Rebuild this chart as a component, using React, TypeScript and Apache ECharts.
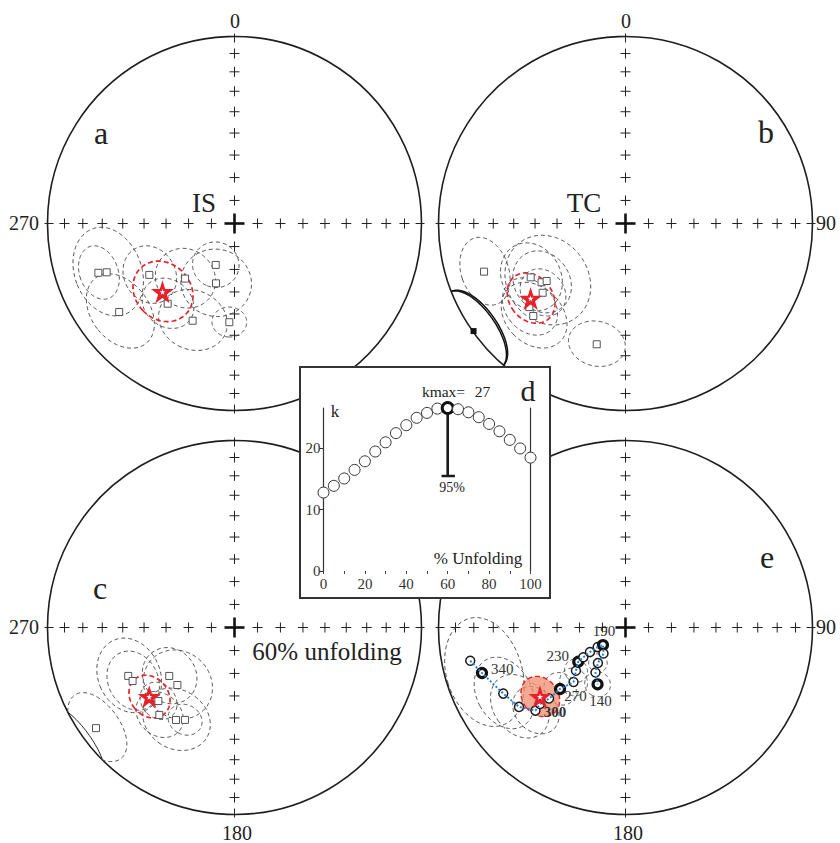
import React, { useEffect, useRef } from 'react';
import * as echarts from 'echarts';

// ---------------- DATA ----------------
// Equal-area net graticule inclinations (crosses on the N, E, S, W diameters)
const crossIncs = [80, 70, 60, 50, 40, 30, 20, 10];

// (a) in situ site means: declination, inclination (upper hemisphere), alpha95
const aDec = [250.1, 249.1, 238.9, 221.9, 204.4, 197.2, 219.8, 232.5, 203.3, 183.0];
const aInc = [-23.6, -27.7, -45.8, -57.5, -70.2, -62.6, -43.5, -23.3, -42.8, -46.1];
const aA95 = [10, 17, 12, 13, 10, 15, 11, 15, 14, 7];
const aMean = [226.5, -45.9, 13];

// (b) tilt-corrected
const bDec = [251.2, 240.4, 235.0, 233.9, 230.1, 229.0, 224.9, 193.4];
const bInc = [-21.2, -41.3, -44.4, -46.7, -41.8, -32.4, -30.8, -34.0];
const bA95 = [12.5, 14, 13, 19, 10, 12, 14, 11];
const bLowerSite = [234.7, 0.5, 14];
const bMean = [231.7, -35.6, 10.5];

// (c) 60% unfolding
const cDec = [245.5, 242.3, 233.4, 224.8, 226.0, 220.7, 212.3, 208.2, 234.0];
const cInc = [-37.6, -38.4, -54.2, -54.3, -42.8, -38.3, -41.1, -43.3, -9.3];
const cA95 = [15, 12, 12, 15, 8, 10, 14, 7, 13];
const cMean = [230.9, -40.9, 9];

// (e) path of mean directions
const eDec = [257.9, 252.4, 241.6, 233.3, 227.3, 228.2, 227.1, 226.8, 223.6, 228.9, 234.1, 234.8, 235.4, 234.9, 232.1, 220.2, 217.8, 213.7, 206.2];
const eInc = [-16.2, -20.6, -26.6, -29.7, -34.8, -38.6, -43.5, -50.3, -56.9, -61.2, -64.5, -67.5, -71.2, -75.2, -77.6, -75.2, -70.4, -66.4, -62.3];
const eA95 = [0, 20, 14, 13, 10, 0, 0, 7, 6, 5, 0, 0, 0, 0, 0, 0, 4, 0, 5.5];
const eLabels = ['', '340', '', '', '300', '', '', '270', '', '', '230', '', '', '', '190', '', '', '', '140'];
const eThick = [0, 1, 0, 0, 0, 0, 0, 1, 0, 0, 1, 0, 0, 0, 1, 0, 0, 0, 1];
const eMean = [231.0, -40.85, 8.5];

// (d) k versus % unfolding
const unfoldPct = [0, 5, 10, 15, 20, 25, 30, 35, 40, 45, 50, 55, 60, 65, 70, 75, 80, 85, 90, 95, 100];
const kValues = [12.8, 13.9, 15.1, 16.5, 17.9, 19.5, 21.0, 22.5, 23.8, 25.0, 25.8, 26.5, 26.6, 26.4, 25.9, 25.1, 24.0, 22.8, 21.4, 20.0, 18.5];
const kMaxPct = 60;
const kMaxValue = 26.6;
const k95Lower = 15.5;
const kTicks = [0, 10, 20];

// ---------------- LAYOUT / STYLE ----------------
const FONT = '"Liberation Serif", "Times New Roman", serif';
const RED = '#e8202a';
const NET_R = 187;
const NETS = [
  { cx: 234.5, cy: 223.5 },
  { cx: 625.5, cy: 223.5 },
  { cx: 234.5, cy: 627.5 },
  { cx: 625.5, cy: 627.5 },
];
const STAR = 'path://M50,2 L61.2,36.6 L97.6,36.6 L68.2,58 L79.4,92.6 L50,71.2 L20.6,92.6 L31.8,58 L2.4,36.6 L38.8,36.6 Z';
const rad = Math.PI / 180;

function proj(dec: number, inc: number): number[] {
  const th = (90 - Math.abs(inc)) * rad;
  const r = Math.SQRT2 * Math.sin(th / 2);
  return [r * Math.sin(dec * rad), r * Math.cos(dec * rad)];
}

type CP = { x: number; y: number; lower: boolean };
function conePoints(dec: number, inc: number, a: number, n = 120): CP[] {
  const D = dec * rad, I = inc * rad, A = a * rad;
  const m = [Math.cos(I) * Math.cos(D), Math.cos(I) * Math.sin(D), Math.sin(I)];
  const u = [-Math.sin(I) * Math.cos(D), -Math.sin(I) * Math.sin(D), Math.cos(I)];
  const v = [-Math.sin(D), Math.cos(D), 0];
  const out: CP[] = [];
  for (let k = 0; k < n; k++) {
    const t = (2 * Math.PI * k) / n;
    const p = [0, 1, 2].map((j) => Math.cos(A) * m[j] + Math.sin(A) * (Math.cos(t) * u[j] + Math.sin(t) * v[j]));
    const pd = Math.atan2(p[1], p[0]) / rad;
    const pi = Math.asin(Math.max(-1, Math.min(1, p[2]))) / rad;
    const xy = proj(pd, pi);
    out.push({ x: xy[0], y: xy[1], lower: pi >= 0 });
  }
  return out;
}

function splitRuns(pts: CP[]) {
  const n = pts.length;
  let start = -1;
  for (let i = 0; i < n; i++) {
    if (pts[i].lower !== pts[(i - 1 + n) % n].lower) { start = i; break; }
  }
  if (start < 0) return [{ lower: pts[0].lower, pts: pts.concat([pts[0]]) }];
  const runs: { lower: boolean; pts: CP[] }[] = [];
  let cur = { lower: pts[start].lower, pts: [] as CP[] };
  for (let k = 0; k < n; k++) {
    const p = pts[(start + k) % n];
    if (p.lower !== cur.lower) {
      cur.pts.push(p);
      runs.push(cur);
      cur = { lower: p.lower, pts: [p] };
    } else cur.pts.push(p);
  }
  cur.pts.push(pts[start]);
  runs.push(cur);
  return runs;
}

function frameSeries(gi: number) {
  return {
    type: 'custom', coordinateSystem: 'cartesian2d', xAxisIndex: gi, yAxisIndex: gi, z: 2, silent: true,
    data: [[0, 0]],
    renderItem: (_p: any, api: any) => {
      const c = api.coord([0, 0]);
      const r = api.coord([1, 0])[0] - c[0];
      const ch: any[] = [];
      ch.push({ type: 'circle', shape: { cx: c[0], cy: c[1], r }, style: { fill: 'none', stroke: '#1e1e1e', lineWidth: 1.6 } });
      const ls = { stroke: '#222', lineWidth: 1 };
      [0, 90, 180, 270].forEach((dir) => {
        crossIncs.forEach((inc) => {
          const p = api.coord(proj(dir, inc));
          ch.push({ type: 'line', shape: { x1: p[0] - 5, y1: p[1], x2: p[0] + 5, y2: p[1] }, style: ls });
          ch.push({ type: 'line', shape: { x1: p[0], y1: p[1] - 5, x2: p[0], y2: p[1] + 5 }, style: ls });
        });
        const s = Math.sin(dir * rad), co = Math.cos(dir * rad);
        ch.push({ type: 'line', shape: { x1: c[0] + (r - 6) * s, y1: c[1] - (r - 6) * co, x2: c[0] + (r + 3) * s, y2: c[1] - (r + 3) * co }, style: ls });
      });
      const bs = { stroke: '#111', lineWidth: 2.6 };
      ch.push({ type: 'line', shape: { x1: c[0] - 10, y1: c[1], x2: c[0] + 10, y2: c[1] }, style: bs });
      ch.push({ type: 'line', shape: { x1: c[0], y1: c[1] - 10, x2: c[0], y2: c[1] + 10 }, style: bs });
      return { type: 'group', children: ch };
    },
  };
}

type ConeStyle = { stroke: string; width: number; dash: number[] | null; fill?: string; lowerStroke: string; lowerWidth: number; lowerDash: number[] | null; z: number };
const GRAY_CONE: ConeStyle = { stroke: '#4a4a4a', width: 0.95, dash: [4, 3], lowerStroke: '#222', lowerWidth: 1.0, lowerDash: null, z: 3 };
const BLACK_CONE: ConeStyle = { stroke: '#111', width: 1.5, dash: null, lowerStroke: '#111', lowerWidth: 1.5, lowerDash: null, z: 3 };
const RED_CONE: ConeStyle = { stroke: RED, width: 1.7, dash: [5, 3], lowerStroke: RED, lowerWidth: 1.7, lowerDash: null, z: 4 };
const SALMON_CONE: ConeStyle = { stroke: RED, width: 1.4, dash: [5, 3], fill: 'rgba(240,140,110,0.75)', lowerStroke: RED, lowerWidth: 1.4, lowerDash: null, z: 4 };

function coneSeries(gi: number, data: number[][], st: ConeStyle) {
  return {
    type: 'custom', coordinateSystem: 'cartesian2d', xAxisIndex: gi, yAxisIndex: gi, z: st.z, silent: true,
    data,
    renderItem: (_p: any, api: any) => {
      const pts = conePoints(api.value(2), api.value(3), api.value(4));
      const ch: any[] = [];
      if (st.fill) {
        ch.push({ type: 'polygon', shape: { points: pts.map((p) => api.coord([p.x, p.y])) }, style: { fill: st.fill, stroke: 'none' } });
      }
      splitRuns(pts).forEach((run) => {
        ch.push({
          type: 'polyline',
          shape: { points: run.pts.map((p) => api.coord([p.x, p.y])) },
          style: {
            fill: 'none',
            stroke: run.lower ? st.lowerStroke : st.stroke,
            lineWidth: run.lower ? st.lowerWidth : st.width,
            lineDash: run.lower ? st.lowerDash : st.dash,
          },
        });
      });
      return { type: 'group', children: ch };
    },
  };
}

function starSeries(gi: number, mean: number[]) {
  const p = proj(mean[0], mean[1]);
  return [
    { type: 'scatter', xAxisIndex: gi, yAxisIndex: gi, z: 8, silent: true, symbol: STAR, symbolSize: 23, itemStyle: { color: RED, opacity: 1 }, data: [p] },
    { type: 'scatter', xAxisIndex: gi, yAxisIndex: gi, z: 9, silent: true, symbol: STAR, symbolSize: 6, itemStyle: { color: '#fff', opacity: 1 }, data: [p] },
  ];
}

const TEXTS: [string, number, number, number][] = [
  ['0', 235, 21, 20], ['0', 626, 21, 20],
  ['270', 24, 223, 20], ['90', 826, 223, 20], ['270', 24, 627, 20], ['90', 826, 627, 20],
  ['180', 237, 833, 20], ['180', 628, 833, 20],
  ['a', 101, 133, 32], ['b', 766, 132, 32], ['c', 100, 588, 32], ['e', 767, 557, 32],
  ['IS', 204, 203, 27], ['TC', 584, 203, 27], ['60% unfolding', 327, 651, 25],
  ['d', 528, 390, 30], ['k', 335, 411, 17], ['kmax=', 443.5, 391.5, 15.5], ['27', 482.5, 391.5, 15.5],
  ['95%', 452, 487, 14], ['% Unfolding', 478, 558, 17],
];

function buildOption() {
  const grid: any[] = [], xAxis: any[] = [], yAxis: any[] = [], series: any[] = [];
  NETS.forEach((n, i) => {
    grid.push({ left: n.cx - NET_R, top: n.cy - NET_R, width: 2 * NET_R, height: 2 * NET_R });
    xAxis.push({ type: 'value', gridIndex: i, min: -1, max: 1, show: false });
    yAxis.push({ type: 'value', gridIndex: i, min: -1, max: 1, show: false });
    series.push(frameSeries(i));
  });

  const sites = [
    { dec: aDec, inc: aInc, a95: aA95, mean: aMean },
    { dec: bDec, inc: bInc, a95: bA95, mean: bMean },
    { dec: cDec, inc: cInc, a95: cA95, mean: cMean },
  ];
  sites.forEach((s, i) => {
    const coneData = s.dec.map((d, j) => [...proj(d, s.inc[j]), d, s.inc[j], s.a95[j]]);
    series.push(coneSeries(i, coneData, GRAY_CONE));
    series.push(coneSeries(i, [[...proj(s.mean[0], s.mean[1]), ...s.mean]], RED_CONE));
    series.push({
      type: 'scatter', xAxisIndex: i, yAxisIndex: i, z: 5, silent: true, symbol: 'rect', symbolSize: 7,
      itemStyle: { color: '#fff', borderColor: '#555', borderWidth: 1, opacity: 1 },
      data: s.dec.map((d, j) => proj(d, s.inc[j])),
    });
    series.push(...starSeries(i, s.mean));
  });

  // (b) lower-hemisphere site
  series.push(coneSeries(1, [[...proj(bLowerSite[0], bLowerSite[1]), ...bLowerSite]], BLACK_CONE));
  series.push({
    type: 'scatter', xAxisIndex: 1, yAxisIndex: 1, z: 5, silent: true, symbol: 'rect', symbolSize: 6,
    itemStyle: { color: '#111', opacity: 1 }, data: [proj(bLowerSite[0], bLowerSite[1])],
  });

  // (e)
  const eCones = eDec.map((d, j) => [...proj(d, eInc[j]), d, eInc[j], eA95[j]]).filter((r) => r[4] > 0);
  series.push(coneSeries(3, eCones, GRAY_CONE));
  series.push(coneSeries(3, [[...proj(eMean[0], eMean[1]), ...eMean]], SALMON_CONE));
  const labelPos: Record<string, { position: string; offset: number[] }> = {
    '340': { position: 'right', offset: [0, -4] },
    '300': { position: 'right', offset: [0, 1] },
    '270': { position: 'right', offset: [-5, 7] },
    '230': { position: 'left', offset: [0, -6] },
    '190': { position: 'top', offset: [1, 3] },
    '140': { position: 'bottom', offset: [3, 0] },
  };
  series.push({
    type: 'scatter', xAxisIndex: 3, yAxisIndex: 3, z: 6, silent: true, symbol: 'circle', symbolSize: 9,
    itemStyle: { color: '#fff', borderColor: '#1a1a1a', borderWidth: 1.5, opacity: 1 },
    data: eDec.map((d, j) => {
      const item: any = { value: proj(d, eInc[j]) };
      if (eThick[j]) item.itemStyle = { borderWidth: 3.2, borderColor: '#111' };
      if (eLabels[j]) {
        const lp = labelPos[eLabels[j]];
        item.label = {
          show: true, formatter: eLabels[j], position: lp.position, distance: 3, offset: lp.offset,
          fontFamily: FONT, fontSize: 15, color: '#333', fontWeight: eLabels[j] === '300' ? 'bold' : 'normal',
        };
      }
      return item;
    }),
  });
  series.push({
    type: 'line', xAxisIndex: 3, yAxisIndex: 3, z: 7, silent: true, showSymbol: false, symbol: 'none',
    lineStyle: { color: '#2a7fd4', width: 2, type: [2, 2] },
    data: eDec.map((d, j) => proj(d, eInc[j])),
  });
  series.push(...starSeries(3, eMean));

  // (d) inset chart
  const gi = 4;
  grid.push({ left: 323.5, top: 408, width: 207, height: 163 });
  xAxis.push({
    type: 'value', gridIndex: gi, min: 0, max: 100, interval: 10, z: 12,
    axisLine: { show: false }, splitLine: { show: false },
    axisTick: { show: true, length: 3, lineStyle: { color: '#444', width: 1 } },
    axisLabel: { margin: 5, fontFamily: FONT, fontSize: 15, color: '#333', formatter: (v: number) => (v % 20 === 0 ? String(v) : '') },
  });
  yAxis.push({
    type: 'value', gridIndex: gi, min: 0, max: kMaxValue, interval: 10, z: 12,
    axisLine: { show: true, lineStyle: { color: '#333', width: 1.2 } }, splitLine: { show: false },
    axisTick: { show: true, length: 4, customValues: kTicks, lineStyle: { color: '#333' } },
    axisLabel: { margin: 3, fontFamily: FONT, fontSize: 15, color: '#333', customValues: kTicks, formatter: (v: number) => (Math.abs(v % 10) < 1e-6 ? String(v) : '') },
  });
  yAxis.push({
    type: 'value', gridIndex: gi, position: 'right', min: 0, max: kMaxValue, z: 12,
    axisLine: { show: true, lineStyle: { color: '#333', width: 1.2 } }, splitLine: { show: false },
    axisTick: { show: false }, axisLabel: { show: false },
  });
  series.push({
    type: 'line', xAxisIndex: gi, yAxisIndex: gi, z: 13, silent: true, symbol: 'none',
    lineStyle: { color: '#1a1a1a', width: 2.6 },
    data: [[kMaxPct, kMaxValue], [kMaxPct, k95Lower]],
  });
  series.push({
    type: 'line', xAxisIndex: gi, yAxisIndex: gi, z: 13, silent: true, symbol: 'none',
    lineStyle: { color: '#1a1a1a', width: 2.6 },
    data: [[kMaxPct - 3, k95Lower], [kMaxPct + 3.5, k95Lower]],
  });
  series.push({
    type: 'scatter', xAxisIndex: gi, yAxisIndex: gi, z: 14, silent: true, symbol: 'circle', symbolSize: 11,
    itemStyle: { color: '#fff', borderColor: '#333', borderWidth: 1, opacity: 1 },
    data: unfoldPct.map((p, j) => {
      const it: any = { value: [p, kValues[j]] };
      if (p === kMaxPct) it.itemStyle = { borderWidth: 3, borderColor: '#111' };
      return it;
    }),
  });

  const graphic: any[] = [
    { type: 'rect', z: 10, silent: true, shape: { x: 300, y: 367, width: 250, height: 231 }, style: { fill: '#fff', stroke: '#333', lineWidth: 2 } },
  ];
  TEXTS.forEach(([t, x, y, fs]) => {
    graphic.push({
      type: 'text', z: 20, silent: true, x, y,
      style: { text: t, font: `${fs}px ${FONT}`, fill: '#222', align: 'center', verticalAlign: 'middle', textAlign: 'center', textVerticalAlign: 'middle' },
    });
  });

  return {
    animation: false,
    backgroundColor: '#fff',
    textStyle: { fontFamily: FONT },
    grid, xAxis, yAxis, series, graphic,
  };
}

export default function App() {
  const ref = useRef<HTMLDivElement>(null);
  useEffect(() => {
    if (!ref.current) return;
    const chart = echarts.init(ref.current, undefined, { renderer: 'svg' });
    chart.setOption(buildOption() as any);
    return () => chart.dispose();
  }, []);
  return <div ref={ref} style={{ position: 'fixed', left: 0, top: 0, width: 840, height: 843, background: '#fff' }} />;
}
